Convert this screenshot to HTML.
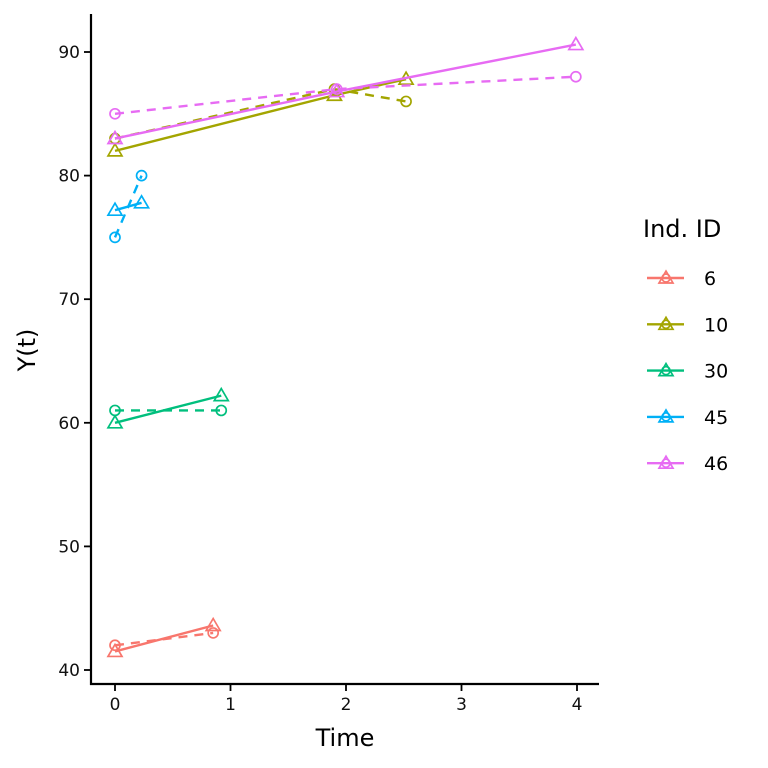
<!DOCTYPE html>
<html><head><meta charset="utf-8"><style>body{margin:0;background:#fff}svg{display:block}text{font-family:"DejaVu Sans","Liberation Sans",sans-serif}</style></head>
<body>
<svg id="chart" width="768" height="768">
<rect width="768" height="768" fill="#fff"/>
<g id="plot"></g>
<line x1="91" y1="14" x2="91" y2="685" stroke="#000" stroke-width="2.2"/>
<line x1="90" y1="684" x2="599" y2="684" stroke="#000" stroke-width="2.2"/>
<g id="axes"></g>
<text x="345" y="746" font-size="24" text-anchor="middle">Time</text>
<text transform="translate(35,350) rotate(-90)" font-size="24" text-anchor="middle">Y(t)</text>
<text x="643" y="237" font-size="24">Ind. ID</text>
<g id="legend"></g>
</svg>
<script>
const ids = ["6","10","30","45","46"];
const colors = ["#F8766D","#A3A500","#00BF7D","#00B0F6","#E76BF3"];
const obsT = [[0,0.85],[0,1.9,2.52],[0,0.92],[0,0.23],[0,1.92,3.99]];
const obsY = [[42,43],[83,87,86],[61,61],[75,80],[85,87,88]];
const fitT = [[0,0.85],[0,1.9,2.52],[0,0.92],[0,0.23],[0,1.92,3.99]];
const fitY = [[41.5,43.6],[82,86.5,87.8],[60,62.2],[77.2,77.8],[83,86.8,90.6]];
const xTicks = [0,1,2,3,4];
const yTicks = [40,50,60,70,80,90];
const NS="http://www.w3.org/2000/svg";
const xs = t => 115 + t*115.5;
const ys = v => 670 - (v-40)*12.36;
function mk(tag, attrs, parent){const e=document.createElementNS(NS,tag);for(const k in attrs)e.setAttribute(k,attrs[k]);parent.appendChild(e);return e;}
const plot=document.getElementById('plot'), axes=document.getElementById('axes'), legend=document.getElementById('legend');
function tri(x,y,c,p){return mk('polygon',{points:`${x},${y-7} ${x-7},${y+5} ${x+7},${y+5}`,fill:'none',stroke:c,'stroke-width':1.7},p);}
ids.forEach((id,i)=>{
  const c=colors[i];
  const d=mk('polyline',{points:obsT[i].map((t,j)=>xs(t)+','+ys(obsY[i][j])).join(' '),fill:'none',stroke:c,'stroke-width':2.4,'stroke-dasharray':'9,7'},plot);
  
  
  const s=mk('polyline',{points:fitT[i].map((t,j)=>xs(t)+','+ys(fitY[i][j])).join(' '),fill:'none',stroke:c,'stroke-width':2.4},plot);
  
  
  obsT[i].forEach((t,j)=>{
    const p=mk('circle',{cx:xs(t),cy:ys(obsY[i][j]),r:5,fill:'none',stroke:c,'stroke-width':1.7},plot);
    
    
  });
  fitT[i].forEach((t,j)=>{
    const p=tri(xs(t),ys(fitY[i][j]),c,plot);
    
    
  });
  const ly=278+i*46.3;
  const g=mk('g',{},legend);
  
  
  mk('line',{x1:647,y1:ly,x2:684,y2:ly,stroke:c,'stroke-width':2.4},g);
  tri(666,ly,c,g);
  mk('circle',{cx:666,cy:ly,r:4,fill:'none',stroke:c,'stroke-width':1.7},g);
  const t=mk('text',{x:704,y:ly+7,'font-size':19},g);t.textContent=id;
});
xTicks.forEach(v=>{
  const l=mk('line',{x1:xs(v),y1:684,x2:xs(v),y2:691,stroke:'#000','stroke-width':1.8},axes);
  
  
  const t=mk('text',{x:xs(v),y:710,'font-size':17,'text-anchor':'middle',fill:'#111'},axes);t.textContent=v;
  
  
});
yTicks.forEach(v=>{
  const l=mk('line',{x1:84,y1:ys(v),x2:91,y2:ys(v),stroke:'#000','stroke-width':1.8},axes);
  
  
  const t=mk('text',{x:80,y:ys(v)+6,'font-size':17,'text-anchor':'end',fill:'#111'},axes);t.textContent=v;
  
  
});
</script>
</body></html>
